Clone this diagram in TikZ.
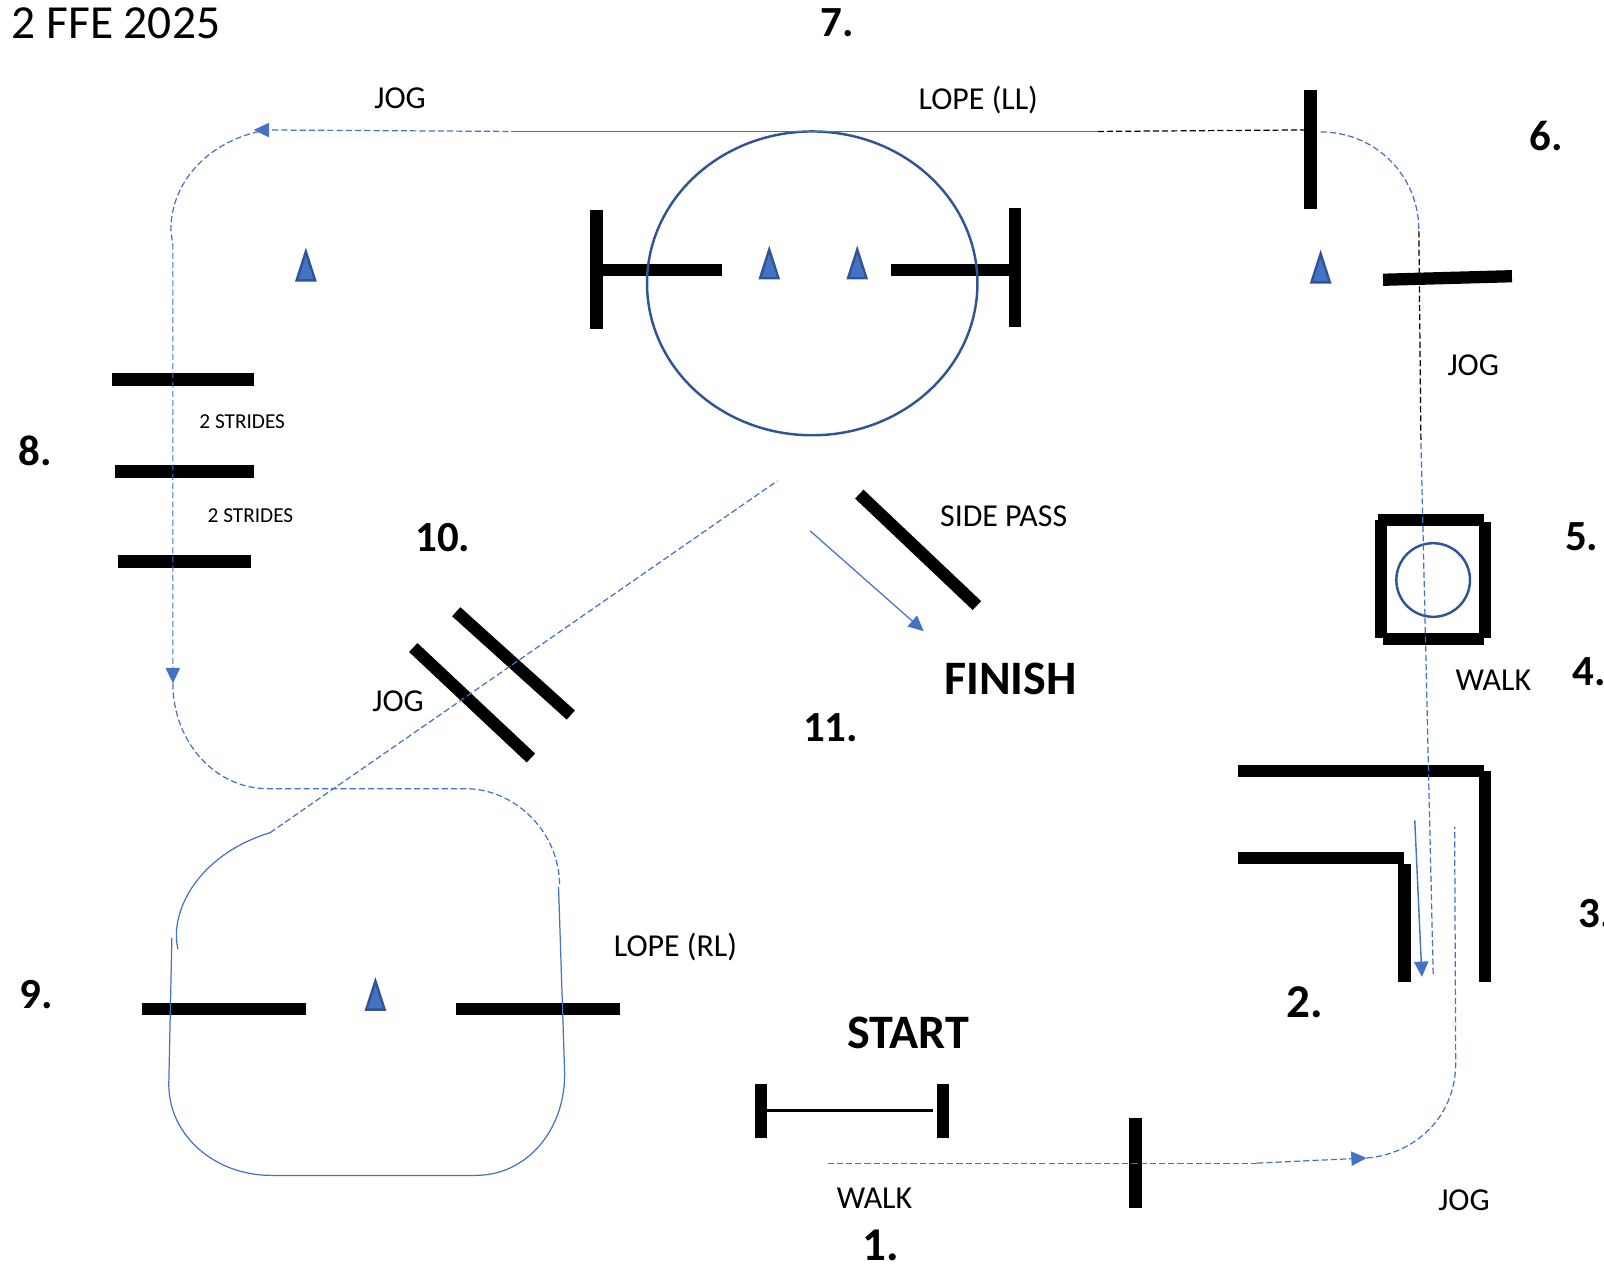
\documentclass[tikz,border=0pt]{standalone}
\usepackage{fontspec}
\setmainfont{Carlito}
\usetikzlibrary{arrows.meta}
\definecolor{cblue}{HTML}{4472C4}
\definecolor{cdark}{HTML}{2F5597}
\tikzset{
  x=0.5pt,y=-0.5pt,
  rail/.style={line width=6pt,black},
  thinrail/.style={line width=1.5pt,black},
  lbl/.style={anchor=base west,inner sep=0pt,outer sep=0pt,font=\fontsize{15.6}{18}\selectfont},
  small/.style={anchor=base west,inner sep=0pt,outer sep=0pt,font=\fontsize{10.4}{12}\selectfont},
  num/.style={anchor=base west,inner sep=0pt,outer sep=0pt,font=\bfseries\fontsize{21}{24}\selectfont},
  numb/.style={num,font=\bfseries\fontsize{23}{24}\selectfont},
  big/.style={anchor=base west,inner sep=0pt,outer sep=0pt,font=\bfseries\fontsize{23.5}{26}\selectfont},
  route/.style={cblue,line width=0.6pt},
  dashroute/.style={route,dash pattern=on 3pt off 1.5pt},
  blackdash/.style={black,line width=0.6pt,dash pattern=on 3pt off 1.5pt},
  tip/.style={-{Triangle[length=7.5pt,width=7pt]}},
  ring/.style={cdark,line width=1.2pt},
  cone/.style={fill=cblue,draw=cdark,line width=1.2pt,line join=miter},
}
\newcommand{\conemark}[2]{\draw[cone] (#1-9,#2+14) -- (#1,#2-14) -- (#1+9,#2+14) -- cycle;}
\begin{document}
\begin{tikzpicture}
\useasboundingbox (0,0) rectangle (1568,1235.6);
% rails
\draw[rail] (1281,88) -- (1281,204);
\draw[rail] (1352,273.5) -- (1478,270);
\draw[rail] (583,205) -- (583,322);
\draw[rail] (583,264) -- (706,264);
\draw[rail] (871,264) -- (992,264);
\draw[rail] (992,203) -- (992,320);
\draw[rail] (109,371) -- (248,371);
\draw[rail] (112.5,461) -- (248,461);
\draw[rail] (115.5,549) -- (245,549);
\draw[rail] (446,598) -- (558,699);
\draw[rail] (404,633) -- (519,741);
\draw[rail] (840,483) -- (955,592);
% box
\draw[rail] (1347,508) -- (1451,508);
\draw[rail] (1352,624.5) -- (1451,624.5);
\draw[rail] (1350,508) -- (1350,624);
\draw[rail] (1451.5,510) -- (1451.5,624);
% corner
\draw[rail] (1210,754) -- (1451,754);
\draw[rail] (1451.5,754) -- (1451.5,960);
\draw[rail] (1210,839) -- (1372,839);
\draw[rail] (1373,845) -- (1373,960);
% start
\draw[rail] (744,1060) -- (744,1112);
\draw[rail] (922,1060) -- (922,1112);
\draw[thinrail] (744,1086) -- (912,1086);
\draw[rail] (1110,1093) -- (1110,1181);
% rails 9
\draw[rail] (139,986) -- (299,986);
\draw[rail] (446,986) -- (606,986);
% rings
\draw[ring] (794,277) ellipse [x radius=161.5,y radius=148.5];
\draw[ring] (1401,567) circle [radius=36];
% cones
\conemark{299}{260}
\conemark{752}{258}
\conemark{838}{258}
\conemark{1291}{262}
\conemark{367}{973}
% routes
\draw[dashroute] (809,1137) -- (1229,1137);
\draw[dashroute,tip] (1229,1137) -- (1336,1132);
\draw[dashroute] (1336,1132) .. controls (1385,1128) and (1423,1090) .. (1423,1040) -- (1422,808);
\draw[dashroute] (1401,952) -- (1389,430);
\draw[blackdash] (1389,430) -- (1387,225);
\draw[dashroute] (1291,129) .. controls (1345,129) and (1387,172) .. (1387,225);
\draw[blackdash] (1073,128.5) -- (1278,127);
\draw[route] (1073,128.5) -- (500,128.5);
\draw[dashroute,dash phase=3pt,tip] (500,128.5) -- (248,127);
\draw[dashroute] (262,127) .. controls (208,135) and (167,175) .. (167,225) -- (169,240) -- (169,668);
\draw[route,dash pattern=on 0pt off 100pt,tip] (169,640) -- (169,668);
\draw[dashroute] (169,668) .. controls (169,725) and (210,771) .. (262,771) -- (455,771) .. controls (505,771) and (547,815) .. (547,865);
\draw[route] (546,867) -- (552,1050) .. controls (552,1105) and (515,1149) .. (465,1149) -- (265,1149) .. controls (210,1149) and (165,1110) .. (165,1060) -- (168,917);
\draw[route] (174,928) .. controls (165,890) and (195,835) .. (264,814);
\draw[dashroute] (264,814) -- (760,470);
\draw[route,tip,line width=0.7pt] (1383,802) -- (1390,955);
\draw[route,tip] (792,519) -- (903,617);
% labels
\node[anchor=base west,inner sep=0pt,font=\fontsize{23.2}{26}\selectfont] (title) at (11,38) {2 FFE 2025};
\node[num] (n7) at (802,36) {7.};
\node[lbl] (jogtop) at (366,106) {JOG};
\node[lbl] (lopell) at (898,107) {LOPE (LL)};
\node[num] (n6) at (1495,147) {6.};
\node[lbl] (jog6) at (1415,367) {JOG};
\node[num] (n5) at (1530,538) {5.};
\node[lbl] (walk4) at (1423,675) {WALK};
\node[num] (n4) at (1537,670) {4.};
\node[num] (n3) at (1543,907) {3.};
\node[numb] (n2) at (1258,995) {2.};
\node[big] (start) at (828,1025) {START};
\node[big] (finish) at (923,679) {FINISH};
\node[num] (n11) at (785,725) {11.};
\node[lbl] (sidepass) at (919,515) {SIDE PASS};
\node[num] (n10) at (406,539) {10.};
\node[lbl] (jog10) at (364,696) {JOG};
\node[num] (n8) at (18,455) {8.};
\node[small] (s1) at (195,419) {2 STRIDES};
\node[small] (s2) at (203,511) {2 STRIDES};
\node[num] (n9) at (19,986) {9.};
\node[lbl] (loperl) at (600,935) {LOPE (RL)};
\node[lbl] (walk1) at (818,1181) {WALK};
\node[numb] (n1) at (843,1232) {1.};
\node[lbl] (jog1) at (1406,1183) {JOG};
\end{tikzpicture}
\end{document}
